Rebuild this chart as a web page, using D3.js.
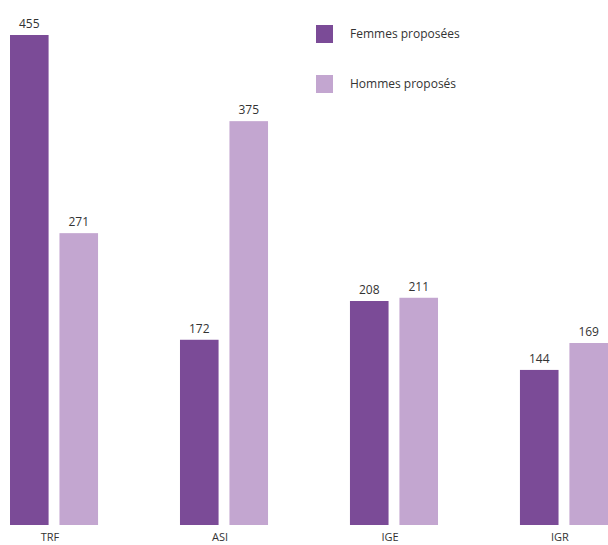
<!DOCTYPE html>
<html>
<head>
<meta charset="utf-8">
<script src="https://cdn.jsdelivr.net/npm/d3@7"></script>
<style>
  body { margin: 0; background: #fff; }
  text { font-family: "Liberation Sans Narrow", "Open Sans", sans-serif; }
</style>
</head>
<body>
<div id="chart"></div>
<script>
var categories = ['TRF', 'ASI', 'IGE', 'IGR'];
var series = ['Femmes proposées', 'Hommes proposés'];
var femmes = [455, 172, 208, 144];
var hommes = [271, 375, 211, 169];
var colors = ['#7b4b97', '#c3a6d0'];

var w = 608, h = 545;
var baseY = 525;

var svg = d3.select('#chart').append('svg')
  .attr('width', w)
  .attr('height', h);

var x0 = d3.scaleBand()
  .domain(categories)
  .range([10, 608])
  .paddingInner(0.482)
  .paddingOuter(0);

var x1 = d3.scaleBand()
  .domain(series)
  .range([0, x0.bandwidth()])
  .paddingInner(0.22);

var y = d3.scaleLinear()
  .domain([0, 455])
  .range([baseY, 35]);

var values = [femmes, hommes];

// groups of bars
var groups = svg.selectAll('g.group')
  .data(categories)
  .enter().append('g')
  .attr('class', 'group')
  .attr('transform', function(d) { return 'translate(' + x0(d) + ',0)'; });

groups.selectAll('rect')
  .data(function(d, i) {
    return series.map(function(s, j) { return { s: s, j: j, v: values[j][i] }; });
  })
  .enter().append('rect')
  .attr('x', function(d) { return x1(d.s); })
  .attr('y', function(d) { return y(d.v); })
  .attr('width', x1.bandwidth())
  .attr('height', function(d) { return baseY - y(d.v); })
  .attr('fill', function(d) { return colors[d.j]; });

// value labels
groups.selectAll('text.val')
  .data(function(d, i) {
    return series.map(function(s, j) { return { s: s, j: j, v: values[j][i] }; });
  })
  .enter().append('text')
  .attr('class', 'val')
  .attr('x', function(d) { return x1(d.s) + x1.bandwidth() / 2; })
  .attr('y', function(d) { return y(d.v) - 7; })
  .attr('text-anchor', 'middle')
  .attr('font-size', 12)
  .attr('fill', '#333')
  .text(function(d) { return d.v; });

// category labels
svg.selectAll('text.cat')
  .data(categories)
  .enter().append('text')
  .attr('class', 'cat')
  .attr('x', function(d) { return x0(d) + x0.bandwidth() / 2 - 4; })
  .attr('y', 541)
  .attr('text-anchor', 'middle')
  .attr('font-size', 11)
  .attr('fill', '#333')
  .text(function(d) { return d; });

// legend
var legend = svg.selectAll('g.legend')
  .data(series)
  .enter().append('g')
  .attr('class', 'legend')
  .attr('transform', function(d, i) { return 'translate(316,' + (25 + i * 50) + ')'; });

legend.append('rect')
  .attr('width', 17)
  .attr('height', 18)
  .attr('fill', function(d, i) { return colors[i]; });

legend.append('text')
  .attr('x', 34)
  .attr('y', 13)
  .attr('font-size', 12)
  .attr('fill', '#333')
  .text(function(d) { return d; });
</script>
</body>
</html>
